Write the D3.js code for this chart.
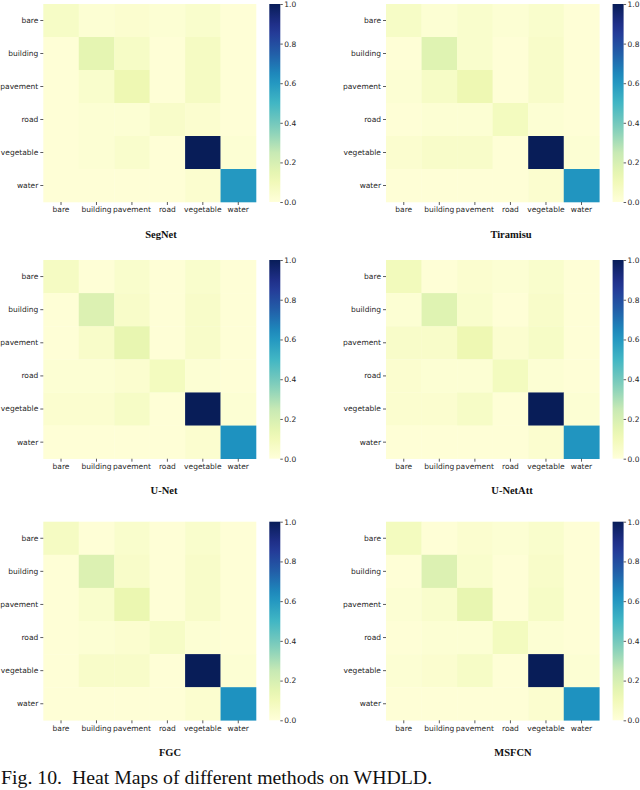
<!DOCTYPE html>
<html>
<head>
<meta charset="utf-8">
<script src="https://cdn.jsdelivr.net/npm/d3@7"></script>
<style>
  body { margin: 0; background: #fff; }
  svg { display: block; }
</style>
</head>
<body>
<script>
// tamaño del area de dibujo
var ancho = 640, alto = 790;

// categorias (filas y columnas)
var clases = ["bare", "building", "pavement", "road", "vegetable", "water"];

// nombres de los metodos
var metodos = ["SegNet", "Tiramisu", "U-Net", "U-NetAtt", "FGC", "MSFCN"];

var segnet = [
  [0.06, 0.02, 0.03, 0.02, 0.04, 0.01],
  [0.01, 0.15, 0.06, 0.01, 0.07, 0.01],
  [0.01, 0.04, 0.12, 0.01, 0.07, 0.01],
  [0.01, 0.02, 0.02, 0.05, 0.03, 0.01],
  [0.01, 0.02, 0.04, 0.01, 1.00, 0.02],
  [0.01, 0.01, 0.01, 0.01, 0.03, 0.60]
];
var tiramisu = [
  [0.06, 0.02, 0.04, 0.02, 0.04, 0.01],
  [0.01, 0.17, 0.04, 0.01, 0.05, 0.01],
  [0.02, 0.06, 0.12, 0.01, 0.05, 0.01],
  [0.01, 0.02, 0.02, 0.08, 0.02, 0.01],
  [0.03, 0.05, 0.05, 0.01, 1.00, 0.02],
  [0.01, 0.01, 0.01, 0.01, 0.03, 0.61]
];
var unet = [
  [0.07, 0.01, 0.04, 0.01, 0.04, 0.01],
  [0.01, 0.18, 0.05, 0.01, 0.05, 0.01],
  [0.01, 0.05, 0.14, 0.01, 0.05, 0.01],
  [0.02, 0.02, 0.03, 0.08, 0.02, 0.01],
  [0.03, 0.03, 0.06, 0.01, 1.00, 0.02],
  [0.01, 0.01, 0.01, 0.01, 0.03, 0.62]
];
var unetatt = [
  [0.09, 0.01, 0.03, 0.02, 0.04, 0.01],
  [0.02, 0.17, 0.04, 0.01, 0.05, 0.01],
  [0.05, 0.05, 0.12, 0.03, 0.06, 0.01],
  [0.03, 0.02, 0.02, 0.08, 0.02, 0.01],
  [0.03, 0.03, 0.06, 0.01, 1.00, 0.02],
  [0.01, 0.01, 0.01, 0.01, 0.03, 0.61]
];
var fgc = [
  [0.07, 0.01, 0.04, 0.01, 0.04, 0.01],
  [0.01, 0.18, 0.05, 0.01, 0.05, 0.01],
  [0.01, 0.04, 0.13, 0.01, 0.05, 0.01],
  [0.01, 0.02, 0.03, 0.06, 0.02, 0.01],
  [0.01, 0.05, 0.05, 0.01, 1.00, 0.02],
  [0.01, 0.01, 0.01, 0.01, 0.03, 0.62]
];
var msfcn = [
  [0.08, 0.01, 0.03, 0.02, 0.04, 0.01],
  [0.01, 0.18, 0.04, 0.01, 0.05, 0.01],
  [0.02, 0.04, 0.14, 0.01, 0.06, 0.01],
  [0.01, 0.02, 0.02, 0.08, 0.02, 0.01],
  [0.02, 0.03, 0.06, 0.01, 1.00, 0.02],
  [0.01, 0.01, 0.01, 0.01, 0.03, 0.62]
];
var matrices = [segnet, tiramisu, unet, unetatt, fgc, msfcn];

// ticks de la barra de color
var ticksBarra = [0, 0.2, 0.4, 0.6, 0.8, 1.0];

// paleta YlGnBu (como matplotlib)
var coloresYlGnBu = ["#ffffd9", "#edf8b1", "#c7e9b4", "#7fcdbb", "#41b6c4",
                     "#1d91c0", "#225ea8", "#253494", "#081d58"];
var escalaColor = d3.scaleLinear()
  .domain(coloresYlGnBu.map(function(c, i){ return i / 8; }))
  .range(coloresYlGnBu)
  .clamp(true);

// posiciones de cada panel
var paneles = [
  {x0: 43.3, x1: 256,   y0: 4,     y1: 202,   tx: 161, ty: 238},
  {x0: 386,  x1: 599.3, y0: 4,     y1: 202,   tx: 511, ty: 238},
  {x0: 43.3, x1: 256,   y0: 260,   y1: 458.7, tx: 164, ty: 494},
  {x0: 386,  x1: 599.3, y0: 260,   y1: 458.7, tx: 512, ty: 494},
  {x0: 43.3, x1: 256,   y0: 521.7, y1: 720.3, tx: 170, ty: 756},
  {x0: 386,  x1: 599.3, y0: 521.7, y1: 720.3, tx: 513, ty: 756}
];

var svg = d3.select("body")
  .append("svg")
  .attr("width", ancho)
  .attr("height", alto);

// gradiente para la barra de color
var defs = svg.append("defs");
var grad = defs.append("linearGradient")
  .attr("id", "barra")
  .attr("x1", 0).attr("x2", 0)
  .attr("y1", 1).attr("y2", 0);
grad.selectAll("stop")
  .data(d3.range(0, 1.0001, 0.05))
  .enter()
  .append("stop")
  .attr("offset", function(d){ return d; })
  .attr("stop-color", function(d){ return escalaColor(d); });

var fuenteEje = "'DejaVu Sans', sans-serif";

paneles.forEach(function(p, k){
  var datos = matrices[k];
  var g = svg.append("g");

  var escalaX = d3.scaleBand().domain(clases).range([p.x0, p.x1]);
  var escalaY = d3.scaleBand().domain(clases).range([p.y0, p.y1]);

  // celdas
  var celdas = [];
  datos.forEach(function(fila, i){
    fila.forEach(function(v, j){
      celdas.push({fila: clases[i], col: clases[j], v: v});
    });
  });

  g.selectAll("rect.celda")
    .data(celdas)
    .enter()
    .append("rect")
    .attr("class", "celda")
    .attr("x", function(d){ return escalaX(d.col); })
    .attr("y", function(d){ return escalaY(d.fila); })
    .attr("width", escalaX.bandwidth() + 0.3)
    .attr("height", escalaY.bandwidth() + 0.3)
    .attr("fill", function(d){ return escalaColor(d.v); });

  // ejes
  var ejeX = g.append("g")
    .attr("transform", "translate(0," + p.y1 + ")")
    .call(d3.axisBottom(escalaX).tickSize(3).tickPadding(2));
  var ejeY = g.append("g")
    .attr("transform", "translate(" + p.x0 + ",0)")
    .call(d3.axisLeft(escalaY).tickSize(3).tickPadding(2));

  // barra de color
  var bx = p.x1 + 13.3, bw = 11;
  g.append("rect")
    .attr("x", bx)
    .attr("y", p.y0)
    .attr("width", bw)
    .attr("height", p.y1 - p.y0)
    .attr("fill", "url(#barra)");

  var escalaBarra = d3.scaleLinear().domain([0, 1]).range([p.y1, p.y0]);
  var ejeBarra = g.append("g")
    .attr("transform", "translate(" + (bx + bw) + ",0)")
    .call(d3.axisRight(escalaBarra)
      .tickValues(ticksBarra)
      .tickFormat(d3.format(".1f"))
      .tickSize(2.5)
      .tickPadding(1.5));

  [ejeX, ejeY, ejeBarra].forEach(function(e){
    e.select(".domain").remove();
    e.selectAll("line").attr("stroke", "#333").attr("stroke-width", 0.8);
    e.selectAll("text")
      .attr("fill", "#262626")
      .style("font-family", fuenteEje)
      .style("font-size", "7.5px");
  });

  // titulo del metodo
  svg.append("text")
    .attr("x", p.tx)
    .attr("y", p.ty)
    .attr("text-anchor", "middle")
    .style("font-family", "'Liberation Serif', 'Times New Roman', serif")
    .style("font-weight", "bold")
    .style("font-size", "10.5px")
    .attr("fill", "#111")
    .text(metodos[k]);
});

// pie de figura
svg.append("text")
  .attr("x", 1)
  .attr("y", 784)
  .style("font-family", "'Liberation Serif', 'Times New Roman', serif")
  .style("font-size", "19.8px")
  .style("white-space", "pre")
  .attr("fill", "#111")
  .text("Fig. 10.  Heat Maps of different methods on WHDLD.");
</script>
</body>
</html>
